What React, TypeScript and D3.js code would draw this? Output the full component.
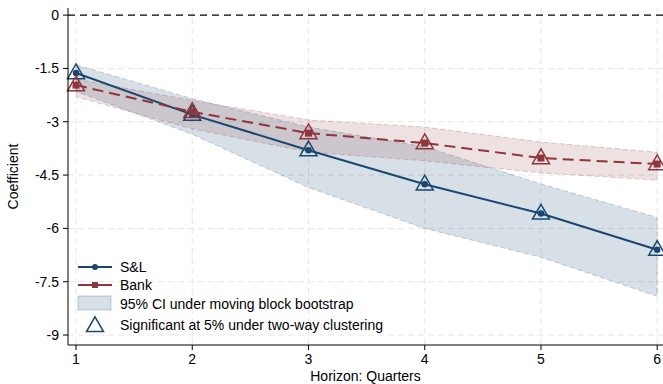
import React from "react";
import * as d3 from "d3";

const horizons = [1, 2, 3, 4, 5, 6];
const slCoef = [-1.63, -2.8, -3.8, -4.76, -5.58, -6.6];
const slLower = [-2.15, -3.35, -4.85, -6.0, -6.81, -7.91];
const slUpper = [-1.4, -2.35, -3.15, -3.7, -4.75, -5.69];
const bankCoef = [-1.97, -2.72, -3.32, -3.6, -4.02, -4.19];
const bankLower = [-2.3, -3.2, -3.85, -4.1, -4.44, -4.64];
const bankUpper = [-1.8, -2.4, -2.95, -3.15, -3.57, -3.86];
const yTicks = [0, -1.5, -3, -4.5, -6, -7.5, -9];

const W = 663;
const H = 384;
const margin = { top: 8, right: 0, bottom: 39, left: 68 };

const navy = "#1a476f";
const maroon = "#90353b";

const x = d3.scaleLinear().domain([0.931, 6.05]).range([margin.left, W - margin.right]);
const y = d3.scaleLinear().domain([0.2, -9.28]).range([margin.top, H - margin.bottom]);

type Series = { coef: number[]; lo: number[]; hi: number[]; color: string; fill: string; dash?: string };

const series: Series[] = [
  { coef: slCoef, lo: slLower, hi: slUpper, color: navy, fill: "rgba(26,71,111,0.17)" },
  { coef: bankCoef, lo: bankLower, hi: bankUpper, color: maroon, fill: "rgba(144,53,59,0.15)", dash: "11,6" },
];

const font = "Liberation Sans, Arial, sans-serif";
const fs = 14;

function tri(cx: number, cy: number, s: number) {
  const h = s * 0.87;
  return `M${cx},${cy - h * 0.62}L${cx + s / 2},${cy + h * 0.38}L${cx - s / 2},${cy + h * 0.38}Z`;
}

export default function App() {
  const line = d3
    .line<number>()
    .x((_, i) => x(horizons[i]))
    .y((d) => y(d));

  const band = (s: Series) =>
    d3
      .area<number>()
      .x((_, i) => x(horizons[i]))
      .y0((d) => y(d))
      .y1((_, i) => y(s.hi[i]))(s.lo) as string;

  const x0 = margin.left;
  const yb = H - margin.bottom;

  return (
    <svg width={W} height={H} style={{ position: "absolute", left: 0, top: 0, background: "#fff" }} fontFamily={font}>
      {/* grid */}
      {yTicks.slice(1).map((t) => (
        <line key={"gy" + t} x1={x0} x2={W} y1={y(t)} y2={y(t)} stroke="#e6e6e6" strokeDasharray="6,4" />
      ))}
      {horizons.map((h) => (
        <line key={"gx" + h} x1={x(h)} x2={x(h)} y1={margin.top} y2={yb} stroke="#e6e6e6" strokeDasharray="6,4" />
      ))}
      <line x1={x0} x2={W} y1={y(0)} y2={y(0)} stroke="#000" strokeWidth={1.2} strokeDasharray="7,5" />

      {/* bands */}
      {series.map((s, k) => (
        <path key={"b" + k} d={band(s)} fill={s.fill} stroke={s.color} strokeOpacity={0.25} strokeDasharray="5,3" />
      ))}

      {/* lines and markers */}
      {series.map((s, k) => (
        <g key={"l" + k}>
          <path d={line(s.coef) as string} fill="none" stroke={s.color} strokeWidth={2} strokeDasharray={s.dash} />
          {s.coef.map((v, i) =>
            k === 0 ? (
              <circle key={i} cx={x(horizons[i])} cy={y(v)} r={3.3} fill={s.color} />
            ) : (
              <rect key={i} x={x(horizons[i]) - 3.5} y={y(v) - 3.5} width={7} height={7} fill={s.color} />
            )
          )}
          {s.coef.map((v, i) => (
            <path key={"t" + i} d={tri(x(horizons[i]), y(v), 17)} fill="none" stroke={s.color} strokeWidth={1.5} />
          ))}
        </g>
      ))}

      {/* axes */}
      <line x1={x0} x2={x0} y1={margin.top} y2={yb} stroke="#000" />
      <line x1={x0} x2={W} y1={yb} y2={yb} stroke="#000" />
      {yTicks.map((t) => (
        <g key={"ty" + t}>
          <line x1={x0 - 5} x2={x0} y1={y(t)} y2={y(t)} stroke="#000" />
          <text x={x0 - 9} y={y(t)} dy="0.35em" textAnchor="end" fontSize={fs}>
            {t}
          </text>
        </g>
      ))}
      {horizons.map((h) => (
        <g key={"tx" + h}>
          <line x1={x(h)} x2={x(h)} y1={yb} y2={yb + 5} stroke="#000" />
          <text x={x(h)} y={yb + 19} textAnchor="middle" fontSize={fs}>
            {h}
          </text>
        </g>
      ))}
      <text x={(x0 + W) / 2} y={H - 3} textAnchor="middle" fontSize={fs}>
        Horizon: Quarters
      </text>
      <text transform={`translate(18,${(margin.top + yb) / 2}) rotate(-90)`} textAnchor="middle" fontSize={fs}>
        Coefficient
      </text>

      {/* legend */}
      <g transform="translate(78,0)">
        <line x1={0} x2={34} y1={267} y2={267} stroke={navy} strokeWidth={2} />
        <circle cx={17} cy={267} r={3} fill={navy} />
        <text x={42} y={267} dy="0.35em" fontSize={fs}>S&amp;L</text>
        <line x1={0} x2={34} y1={285} y2={285} stroke={maroon} strokeWidth={2} />
        <rect x={14} y={282} width={6} height={6} fill={maroon} />
        <text x={42} y={285} dy="0.35em" fontSize={fs}>Bank</text>
        <rect x={0} y={296} width={33} height={14} fill="rgba(26,71,111,0.17)" stroke={navy} strokeOpacity={0.25} />
        <text x={42} y={304} dy="0.35em" fontSize={fs}>95% CI under moving block bootstrap</text>
        <path d={tri(17, 326, 17)} fill="none" stroke={navy} strokeWidth={1.5} />
        <text x={42} y={325} dy="0.35em" fontSize={fs}>Significant at 5% under two-way clustering</text>
      </g>
    </svg>
  );
}
